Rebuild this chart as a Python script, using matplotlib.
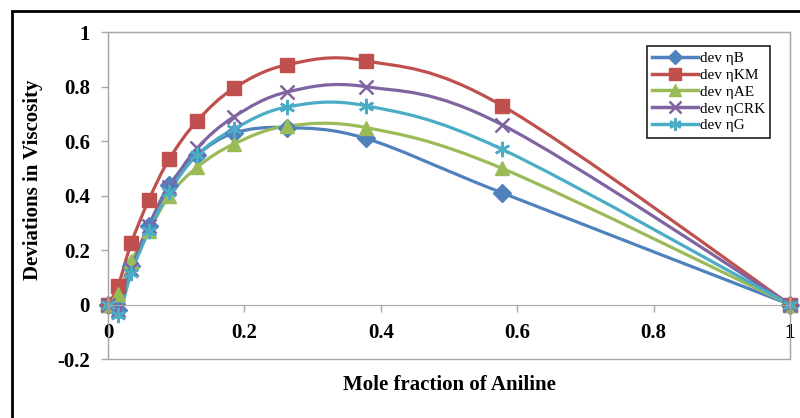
import matplotlib
matplotlib.use('Agg')
import matplotlib.pyplot as plt
from matplotlib.path import Path
from matplotlib.patches import PathPatch, Rectangle
from matplotlib.lines import Line2D

matplotlib.rcParams["font.family"] = "Liberation Serif"
matplotlib.rcParams["font.weight"] = "bold"

# mole fraction of aniline
x_frac = [0, 0.015, 0.034, 0.06, 0.09, 0.131, 0.185, 0.262, 0.378, 0.578, 1.0]

dev_B = [0, -0.02, 0.14, 0.29, 0.44, 0.55, 0.63, 0.65, 0.61, 0.41, 0]
dev_KM = [0, 0.07, 0.225, 0.385, 0.535, 0.675, 0.795, 0.88, 0.895, 0.73, 0]
dev_AE = [0, 0.04, 0.16, 0.27, 0.40, 0.505, 0.59, 0.655, 0.65, 0.50, 0]
dev_CRK = [0, -0.02, 0.13, 0.29, 0.43, 0.575, 0.69, 0.78, 0.80, 0.66, 0]
dev_G = [0, -0.04, 0.115, 0.27, 0.415, 0.55, 0.645, 0.725, 0.73, 0.57, 0]

labels = ['dev \u03b7B', 'dev \u03b7KM', 'dev \u03b7AE', 'dev \u03b7CRK', 'dev \u03b7G']
colors = ['#4F81BD', '#C0504D', '#9BBB59', '#8064A2', '#4BACC6']
markers = ['D', 's', '^', 'x', (6, 2, 0)]
msizes = [9, 10, 10, 10, 11]
series = [dev_B, dev_KM, dev_AE, dev_CRK, dev_G]


def smooth_path(xs, ys):
    # excel-style smoothed line: bezier segments through the points
    pts = list(zip(xs, ys))
    n = len(pts)
    verts = [pts[0]]
    codes = [Path.MOVETO]
    for i in range(n - 1):
        p0 = pts[i - 1] if i > 0 else pts[i]
        p1 = pts[i]
        p2 = pts[i + 1]
        p3 = pts[i + 2] if i + 2 < n else pts[i + 1]
        c1 = (p1[0] + (p2[0] - p0[0]) / 6, p1[1] + (p2[1] - p0[1]) / 6)
        c2 = (p2[0] - (p3[0] - p1[0]) / 6, p2[1] - (p3[1] - p1[1]) / 6)
        verts += [c1, c2, p2]
        codes += [Path.CURVE4] * 3
    return Path(verts, codes)


fig = plt.figure(figsize=(8, 4.18), dpi=100)
ax = fig.add_axes([0.135, 0.141, 0.8525, 0.782])

handles = []
for ys, lab, c, m, ms in zip(series, labels, colors, markers, msizes):
    ax.add_patch(PathPatch(smooth_path(x_frac, ys), fill=False, edgecolor=c,
                           linewidth=2.3, transform=ax.transData))
    mew = 1.8 if m in ('x', (6, 2, 0)) else 1
    ax.plot(x_frac, ys, linestyle='none', marker=m, markersize=ms, color=c,
            markeredgecolor=c, markeredgewidth=mew, clip_on=False)
    handles.append(Line2D([], [], color=c, linewidth=2.5, marker=m,
                          markersize=ms * 0.8, markeredgewidth=mew, label=lab))

ax.set_xlim(0, 1)
ax.set_ylim(-0.2, 1)
ax.set_xticks([0, 0.2, 0.4, 0.6, 0.8, 1])
ax.set_xticklabels(['0', '0.2', '0.4', '0.6', '0.8', '1'])
ax.set_yticks([-0.2, 0, 0.2, 0.4, 0.6, 0.8, 1])
ax.set_yticklabels(['-0.2', '0', '0.2', '0.4', '0.6', '0.8', '1'])

gray = '#A6A6A6'
for s in ax.spines.values():
    s.set_color(gray)
ax.spines['bottom'].set_position(('data', 0))
ax.add_patch(Rectangle((0, 0), 1, 1, transform=ax.transAxes, fill=False,
                       edgecolor=gray, linewidth=1, clip_on=False, zorder=0))
ax.tick_params(axis='both', colors=gray, labelcolor='black', labelsize=15,
               length=5, width=1, direction='out')
ax.tick_params(axis='x', pad=8)
ax.tick_params(axis='y', pad=8)

ax.set_xlabel('Mole fraction of Aniline', fontsize=15, fontweight='bold')
ax.xaxis.set_label_coords(0.5, -0.05)
ax.set_ylabel('Deviations in Viscosity', fontsize=15, fontweight='bold')
ax.yaxis.set_label_coords(-0.095, 0.55)

leg = ax.legend(handles=handles, loc='upper right', bbox_to_anchor=(0.971, 0.957),
                borderaxespad=0, fancybox=False, edgecolor='#202020', framealpha=1,
                fontsize=11, handlelength=3.0, labelspacing=0.2, handletextpad=0.1,
                borderpad=0.35)
leg.get_frame().set_linewidth(1.2)
for t in leg.get_texts():
    t.set_fontweight('normal')

# outer chart border
fig.patches.append(Rectangle((0.015, -0.05), 1.1, 0.974 + 0.05, transform=fig.transFigure,
                             fill=False, edgecolor='black', linewidth=2, figure=fig))

plt.savefig('out.png', dpi=100)
